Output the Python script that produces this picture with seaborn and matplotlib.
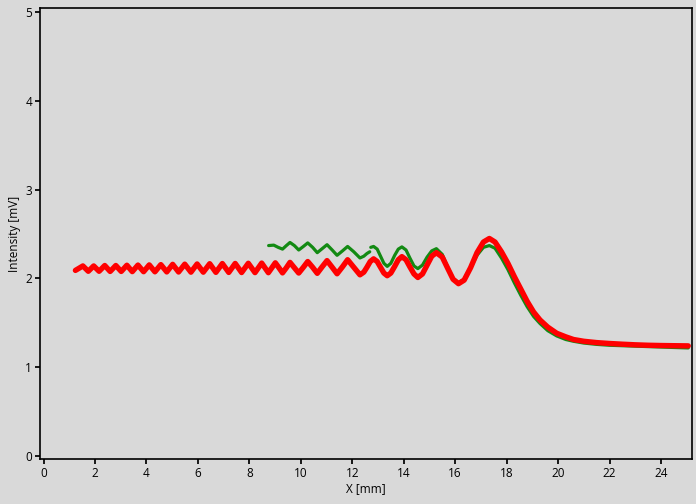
import pandas as pd
import matplotlib
matplotlib.use("Agg")
import matplotlib.pyplot as plt
import seaborn as sns

####### data #######

# red trace (full scan)
red_x = [1.24, 1.53, 1.74, 1.95, 2.16, 2.38, 2.59, 2.81, 3.02, 3.24, 3.45, 3.67, 3.89,
         4.11, 4.33, 4.56, 4.79, 5.02, 5.25, 5.49, 5.73, 5.97, 6.21, 6.46, 6.70, 6.95,
         7.20, 7.45, 7.70, 7.96, 8.22, 8.48, 8.74, 9.01, 9.15, 9.29, 9.44, 9.58, 9.75,
         9.92, 10.10, 10.27, 10.46, 10.64, 10.83, 11.02, 11.22, 11.41, 11.62, 11.82,
         12.06, 12.30, 12.45, 12.57, 12.70, 12.83, 12.97, 13.10, 13.23, 13.36, 13.50,
         13.65, 13.79, 13.93, 14.09, 14.24, 14.40, 14.55, 14.73, 14.91, 15.09, 15.27,
         15.50, 15.70, 15.92, 16.13, 16.35, 16.60, 16.85, 17.10, 17.33, 17.55, 17.80,
         18.05, 18.30, 18.55, 18.80, 19.05, 19.30, 19.60, 19.95, 20.30, 20.60, 21.00,
         21.50, 22.00, 22.50, 23.00, 23.50, 24.00, 24.50, 25.06]
red_y = [2.09, 2.14, 2.08, 2.14, 2.08, 2.145, 2.078, 2.145, 2.078, 2.148, 2.076, 2.15, 2.075,
         2.152, 2.074, 2.155, 2.073, 2.158, 2.072, 2.16, 2.07, 2.162, 2.07, 2.165, 2.068, 2.167,
         2.067, 2.168, 2.066, 2.17, 2.065, 2.172, 2.064, 2.175, 2.12, 2.062, 2.12, 2.18, 2.12,
         2.06, 2.125, 2.19, 2.125, 2.057, 2.13, 2.20, 2.125, 2.052, 2.13, 2.21,
         2.125, 2.04, 2.07, 2.125, 2.19, 2.22, 2.19, 2.125, 2.06, 2.03, 2.06,
         2.135, 2.21, 2.245, 2.21, 2.13, 2.05, 2.01, 2.05, 2.15, 2.25, 2.29,
         2.24, 2.12, 1.99, 1.94, 1.98, 2.12, 2.29, 2.41, 2.45, 2.41, 2.30,
         2.17, 2.02, 1.88, 1.74, 1.62, 1.53, 1.45, 1.38, 1.34, 1.31, 1.29,
         1.275, 1.265, 1.257, 1.25, 1.245, 1.242, 1.24, 1.238]

# green trace, first piece (before the small jump near 12.7 mm)
green_x_a = [8.75, 8.95, 9.12, 9.29, 9.44, 9.58, 9.75, 9.92, 10.10, 10.27, 10.46, 10.64,
             10.83, 11.02, 11.22, 11.41, 11.62, 11.82, 12.06, 12.30, 12.45, 12.57, 12.68]
green_y_a = [2.37, 2.375, 2.35, 2.33, 2.37, 2.405, 2.37, 2.32, 2.36, 2.40, 2.35, 2.29,
             2.335, 2.38, 2.32, 2.26, 2.31, 2.36, 2.30, 2.23, 2.25, 2.28, 2.30]

# green trace, second piece
green_x_b = [12.72, 12.83, 12.97, 13.10, 13.23, 13.36, 13.50, 13.65, 13.79, 13.93, 14.09,
             14.24, 14.40, 14.55, 14.73, 14.91, 15.09, 15.27, 15.50, 15.70, 15.92, 16.13,
             16.35, 16.60, 16.85, 17.10, 17.33, 17.55, 17.80, 18.05, 18.30, 18.55, 18.80,
             19.05, 19.30, 19.60, 19.95, 20.30, 20.60, 21.00, 21.50, 22.00, 22.50, 23.00,
             23.50, 24.00, 24.50, 25.06]
green_y_b = [2.35, 2.36, 2.33, 2.25, 2.17, 2.135, 2.17, 2.26, 2.33, 2.355, 2.32,
             2.23, 2.14, 2.11, 2.15, 2.24, 2.31, 2.335, 2.27, 2.13, 2.00, 1.95,
             1.99, 2.12, 2.26, 2.35, 2.37, 2.34, 2.23, 2.10, 1.95, 1.81, 1.68,
             1.57, 1.49, 1.41, 1.35, 1.31, 1.29, 1.27, 1.255, 1.245, 1.24, 1.235,
             1.23, 1.225, 1.22, 1.215]

x_ticks = [0, 2, 4, 6, 8, 10, 12, 14, 16, 18, 20, 22, 24]
y_ticks = [0, 1, 2, 3, 4, 5]

red_df = pd.DataFrame({'x': red_x, 'y': red_y})
green_a_df = pd.DataFrame({'x': green_x_a, 'y': green_y_a})
green_b_df = pd.DataFrame({'x': green_x_b, 'y': green_y_b})

####### plot #######

bg = '#d9d9d9'
sns.set_theme(style='ticks', rc={'axes.facecolor': bg, 'figure.facecolor': bg,
                                 'axes.edgecolor': 'black', 'axes.linewidth': 1.2,
                                 'axes.labelcolor': 'black', 'text.color': 'black',
                                 'xtick.major.size': 3.5, 'ytick.major.size': 3.5,
                                 'xtick.color': 'black', 'ytick.color': 'black'})
plt.rcParams['font.family'] = ['Open Sans', 'DejaVu Sans']

fig = plt.figure(figsize=(6.96, 5.04), dpi=100)
ax = fig.add_axes([0.057, 0.089, 0.937, 0.895])

sns.lineplot(data=green_a_df, x='x', y='y', color='#138a13', linewidth=2.3,
             estimator=None, sort=False, ax=ax)
sns.lineplot(data=green_b_df, x='x', y='y', color='#138a13', linewidth=2.3,
             estimator=None, sort=False, ax=ax)
sns.lineplot(data=red_df, x='x', y='y', color='#ff0000', linewidth=3.9,
             estimator=None, sort=False, ax=ax)

ax.set_xlim(-0.15, 25.2)
ax.set_ylim(-0.04, 5.05)
ax.set_xticks(x_ticks)
ax.set_yticks(y_ticks)
ax.tick_params(labelsize=8.5, pad=2)
ax.set_xlabel('X [mm]', fontsize=8.5, labelpad=2)
ax.set_ylabel('Intensity [mV]', fontsize=8.5, labelpad=3)
for side in ['top', 'right']:
    ax.spines[side].set_visible(True)

fig.savefig('out.png', dpi=100, facecolor=bg)
